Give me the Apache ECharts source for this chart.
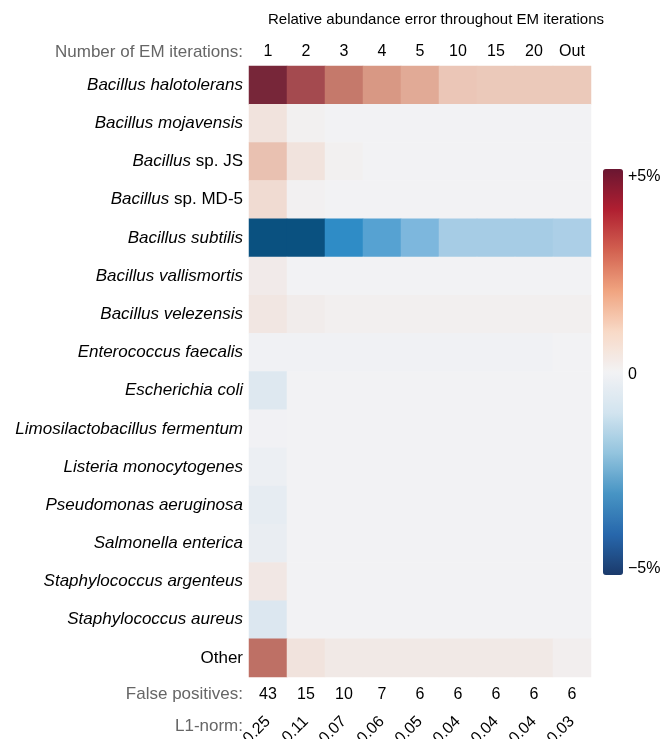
<!DOCTYPE html>
<html>
<head>
<meta charset="utf-8">
<style>
  html, body { margin: 0; padding: 0; background: #fff; }
  #chart { width: 665px; height: 739px; }
</style>
<script src="https://cdn.jsdelivr.net/npm/echarts@6/dist/echarts.min.js"></script>
</head>
<body>
<div id="chart"></div>
<script>
const iterations = ['1', '2', '3', '4', '5', '10', '15', '20', 'Out'];
const falsePositives = ['43', '15', '10', '7', '6', '6', '6', '6', '6'];
const l1Norms = ['0.25', '0.11', '0.07', '0.06', '0.05', '0.04', '0.04', '0.04', '0.03'];

// [italic part, plain part]
const species = [
  ['Bacillus halotolerans', ''],
  ['Bacillus mojavensis', ''],
  ['Bacillus', ' sp. JS'],
  ['Bacillus', ' sp. MD-5'],
  ['Bacillus subtilis', ''],
  ['Bacillus vallismortis', ''],
  ['Bacillus velezensis', ''],
  ['Enterococcus faecalis', ''],
  ['Escherichia coli', ''],
  ['Limosilactobacillus fermentum', ''],
  ['Listeria monocytogenes', ''],
  ['Pseudomonas aeruginosa', ''],
  ['Salmonella enterica', ''],
  ['Staphylococcus argenteus', ''],
  ['Staphylococcus aureus', ''],
  ['', 'Other']
];

// relative abundance error (%), one row per species, one value per iteration
const errHalotolerans = [4.8, 4.0, 3.0, 2.2, 1.8, 1.25, 1.2, 1.2, 1.2];
const errMojavensis = [0.5, 0.08, 0, 0, 0, 0, 0, 0, 0];
const errSpJS = [1.35, 0.5, 0.08, 0, 0, 0, 0, 0, 0];
const errSpMD5 = [0.75, 0.07, 0, 0, 0, 0, 0, 0, 0];
const errSubtilis = [-4.4, -4.4, -3.0, -2.5, -2.0, -1.3, -1.3, -1.3, -1.2];
const errVallismortis = [0.25, 0, 0, 0, 0, 0, 0, 0, 0];
const errVelezensis = [0.4, 0.2, 0.1, 0.1, 0.1, 0.1, 0.1, 0.1, 0.1];
const errFaecalis = [-0.03, -0.03, -0.03, -0.03, -0.03, -0.03, -0.03, -0.03, 0];
const errColi = [-0.35, 0, 0, 0, 0, 0, 0, 0, 0];
const errFermentum = [-0.02, 0, 0, 0, 0, 0, 0, 0, 0];
const errMonocytogenes = [-0.1, 0, 0, 0, 0, 0, 0, 0, 0];
const errAeruginosa = [-0.2, 0, 0, 0, 0, 0, 0, 0, 0];
const errEnterica = [-0.16, 0, 0, 0, 0, 0, 0, 0, 0];
const errArgenteus = [0.35, 0, 0, 0, 0, 0, 0, 0, 0];
const errAureus = [-0.38, 0, 0, 0, 0, 0, 0, 0, 0];
const errOther = [3.2, 0.5, 0.3, 0.3, 0.3, 0.3, 0.3, 0.3, 0.12];

const errRows = [
  errHalotolerans, errMojavensis, errSpJS, errSpMD5, errSubtilis, errVallismortis,
  errVelezensis, errFaecalis, errColi, errFermentum, errMonocytogenes, errAeruginosa,
  errEnterica, errArgenteus, errAureus, errOther
];

// cells are drawn a little muted, the colour bar is the plain RdBu scale
const cellColors = ['#033a63', '#0f6194', '#2f8cc6', '#7db7dd', '#b8d5e9', '#f2f2f4',
                    '#efd3c6', '#dda08a', '#c5796b', '#a44a4f', '#6c1d33'];
const barColors = ['#1b3a6b', '#2767ac', '#4794c4', '#93c4de', '#d2e4ef', '#f2f2f4',
                   '#f8d9c6', '#f0a480', '#d26150', '#b01f31', '#6a1631'];

const heatData = [];
errRows.forEach((row, y) => {
  row.forEach((v, x) => heatData.push([x, y, v]));
});

const FONT = 'Liberation Sans, Arial, sans-serif';
const GRAY = '#666';

const chart = echarts.init(document.getElementById('chart'));

chart.setOption({
  backgroundColor: '#fff',
  animation: false,
  textStyle: { fontFamily: FONT },
  grid: { left: 249, right: 74, top: 66, bottom: 62, outerBoundsMode: 'none', containLabel: false },
  xAxis: [
    {
      type: 'category',
      position: 'top',
      data: iterations,
      axisLine: { show: false },
      axisTick: { show: false },
      axisLabel: { color: '#000', fontSize: 16, margin: 6, fontFamily: FONT }
    },
    {
      type: 'category',
      position: 'bottom',
      data: iterations,
      axisLine: { show: false },
      axisTick: { show: false },
      axisLabel: {
        color: '#000', fontSize: 16, margin: 10, fontFamily: FONT,
        formatter: (v, i) => falsePositives[i]
      }
    },
    {
      type: 'category',
      position: 'bottom',
      offset: 40,
      data: iterations,
      axisLine: { show: false },
      axisTick: { show: false },
      axisLabel: {
        color: '#000', fontSize: 16, margin: 2, rotate: 45, fontFamily: FONT,
        formatter: (v, i) => l1Norms[i]
      }
    }
  ],
  yAxis: {
    type: 'category',
    inverse: true,
    data: species.map((s) => s[0] + s[1]),
    axisLine: { show: false },
    axisTick: { show: false },
    axisLabel: {
      margin: 6,
      formatter: (v, i) => {
        const [it, plain] = species[i];
        let out = '';
        if (it) out += `{i|${it}}`;
        if (plain) out += `{n|${plain}}`;
        return out;
      },
      rich: {
        i: { fontStyle: 'italic', fontSize: 17, color: '#000', fontFamily: FONT },
        n: { fontSize: 17, color: '#000', fontFamily: FONT }
      }
    }
  },
  visualMap: [
    {
      type: 'continuous',
      seriesIndex: 1,
      min: -5,
      max: 5,
      calculable: false,
      orient: 'vertical',
      left: 603,
      top: 169,
      padding: 0,
      itemWidth: 20,
      itemHeight: 406,
      text: null,
      showLabel: false,
      inRange: { color: barColors }
    },
    {
      type: 'continuous',
      seriesIndex: 0,
      show: false,
      min: -5,
      max: 5,
      inRange: { color: cellColors }
    }
  ],
  graphic: [
    {
      type: 'text', left: 268, top: 12,
      style: { text: 'Relative abundance error throughout EM iterations', font: `15px ${FONT}`, fill: '#000' }
    },
    {
      type: 'text', right: 422, top: 44,
      style: { text: 'Number of EM iterations:', font: `17px ${FONT}`, fill: GRAY }
    },
    {
      type: 'text', right: 422, top: 686,
      style: { text: 'False positives:', font: `17px ${FONT}`, fill: GRAY }
    },
    {
      type: 'text', right: 422, top: 718,
      style: { text: 'L1-norm:', font: `17px ${FONT}`, fill: GRAY }
    },
    {
      type: 'text', left: 628, top: 169,
      style: { text: '+5%', font: `16px ${FONT}`, fill: '#000' }
    },
    {
      type: 'text', left: 628, top: 367,
      style: { text: '0', font: `16px ${FONT}`, fill: '#000' }
    },
    {
      type: 'text', left: 628, top: 561,
      style: { text: '\u22125%', font: `16px ${FONT}`, fill: '#000' }
    }
  ],
  series: [
    {
      type: 'heatmap',
      data: heatData,
      itemStyle: { borderWidth: 0 },
      emphasis: { disabled: true }
    },
    {
      type: 'heatmap',
      data: []
    }
  ]
});
</script>
</body>
</html>
